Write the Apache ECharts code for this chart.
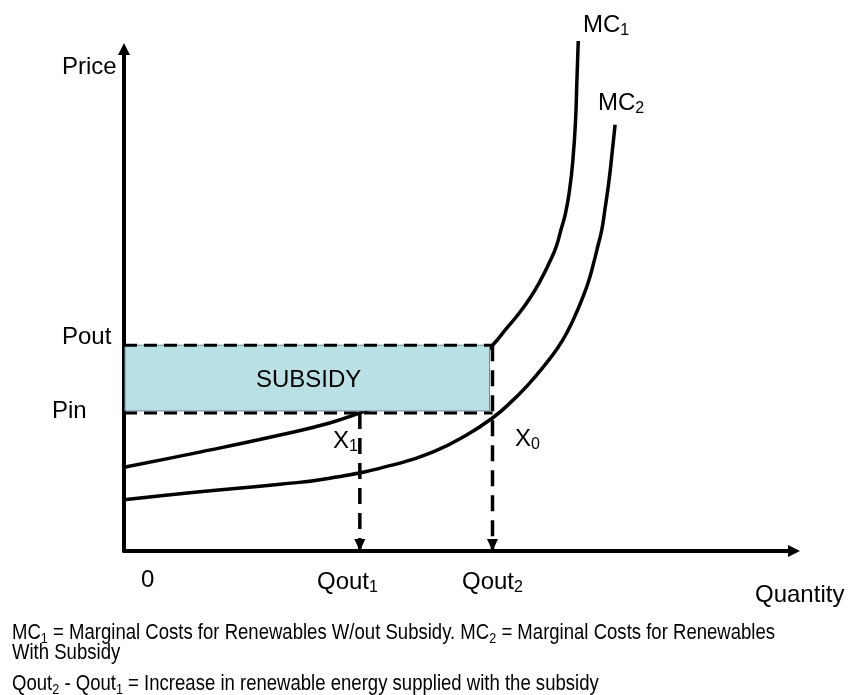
<!DOCTYPE html>
<html>
<head>
<meta charset="utf-8">
<script src="https://cdn.jsdelivr.net/npm/echarts@6/dist/echarts.min.js"></script>
<style>
  html, body { margin: 0; padding: 0; background: #fff; }
  #chart { width: 849px; height: 695px; }
</style>
</head>
<body>
<div id="chart"></div>
<script>
// Marginal cost curves as [quantity, price] points (arbitrary units, 0–100)
const mc1Curve = [
  [0, 16.7], [11.3, 19.7], [23.3, 23.1], [30.7, 25.5], [35.2, 27.5],
  [41.2, 30.3], [47.2, 33.7], [51.6, 36.9], [55.0, 41.0], [57.0, 44.2],
  [59.0, 47.4], [60.7, 50.6], [62.2, 54.0], [63.4, 57.2], [64.5, 60.6],
  [65.2, 63.9], [65.9, 67.3], [66.5, 71.9], [67.0, 77.9], [67.4, 85.9],
  [67.6, 93.8], [67.8, 101.6]
];
const mc2Curve = [
  [0, 10.2], [11.3, 11.8], [23.3, 13.3], [30.7, 14.5], [41.2, 17.5],
  [46.4, 19.9], [50.6, 22.7], [55.0, 26.5], [58.1, 30.1], [60.3, 33.1],
  [62.6, 36.7], [64.8, 40.6], [66.3, 44.0], [67.5, 47.4], [68.5, 50.6],
  [69.4, 54.0], [70.1, 57.4], [70.7, 60.6], [71.3, 63.9], [71.7, 67.3],
  [72.4, 73.9], [72.9, 79.9], [73.3, 84.9]
];
// Price levels: Pin, Pout
const priceLevels = [27.5, 41.0];
const priceNames = ['Pin', 'Pout'];
// Quantities supplied: Qout1, Qout2
const quantityLevels = [35.2, 55.0];
const quantityNames = [['Qout', '1'], ['Qout', '2']];

const P_IN = priceLevels[0], P_OUT = priceLevels[1];
const Q1 = quantityLevels[0], Q2 = quantityLevels[1];

const FONT = "'Liberation Sans', Arial, Helvetica, sans-serif";

// rich text with subscripts: parts = [[main, sub], ...]
function richText(parts) {
  return parts.map(p => '{n|' + p[0] + '}' + (p[1] ? '{s|' + p[1] + '}' : '')).join('');
}
function mainRich(size, sub, lh, subLh) {
  return {
    n: { fontSize: size, fontFamily: FONT, fill: '#000', lineHeight: lh },
    s: { fontSize: sub, fontFamily: FONT, fill: '#000', lineHeight: subLh, verticalAlign: 'bottom' }
  };
}
function label(x, y, parts) {
  return {
    type: 'text', x: x, y: y, z: 20, silent: true,
    style: {
      text: richText(parts), rich: mainRich(24, 16, 28, 10),
      align: 'left', verticalAlign: 'middle', fill: '#000'
    }
  };
}
function noteLine(x, y, parts) {
  return {
    type: 'text', x: x, y: y, z: 20, scaleX: 0.843, silent: true,
    style: {
      text: richText(parts), rich: mainRich(22, 15, 26, 10),
      align: 'left', verticalAlign: 'middle', fill: '#000'
    }
  };
}

function arrowEnd(pt) {
  return {
    value: pt, symbol: 'triangle', symbolRotate: 180,
    symbolSize: [11, 12], symbolOffset: [0, -6]
  };
}

const curveStyle = { color: '#000', width: 3.5 };

const option = {
  animation: false,
  backgroundColor: '#fff',
  grid: { left: 124, right: 55, top: 49, bottom: 144 },
  xAxis: {
    type: 'value', min: 0, max: 100,
    axisLine: { show: true, symbol: ['none', 'triangle'], symbolSize: [12, 12],
      lineStyle: { color: '#000', width: 4 } },
    axisTick: { show: false }, axisLabel: { show: false }, splitLine: { show: false }
  },
  yAxis: {
    type: 'value', min: 0, max: 100,
    axisLine: { show: true, symbol: ['none', 'triangle'], symbolSize: [12, 12],
      lineStyle: { color: '#000', width: 4 } },
    axisTick: { show: false }, axisLabel: { show: false }, splitLine: { show: false }
  },
  series: [
    {
      name: 'MC2', type: 'line', data: mc2Curve, smooth: 0.5, showSymbol: false,
      clip: false, silent: true, z: 2, lineStyle: curveStyle
    },
    {
      name: 'MC1', type: 'line', data: mc1Curve, smooth: 0.5, showSymbol: false,
      clip: false, silent: true, z: 2, lineStyle: curveStyle
    },
    {
      name: 'Subsidy', type: 'custom', z: 3, silent: true,
      encode: { x: [0, 2], y: [1, 3] },
      data: [[0, P_IN, Q2, P_OUT]],
      renderItem: function (params, api) {
        const a = api.coord([api.value(0), api.value(3)]);
        const b = api.coord([api.value(2), api.value(1)]);
        return {
          type: 'rect',
          shape: { x: a[0] + 1, y: a[1], width: b[0] - a[0] - 4, height: b[1] - a[1] - 2 },
          style: { fill: '#B9E0E4', stroke: '#6F8E91', lineWidth: 1 }
        };
      }
    },
    {
      name: 'Pout', type: 'line', data: [[0, P_OUT], [Q2, P_OUT]], showSymbol: false,
      silent: true, z: 4, lineStyle: { color: '#000', width: 3, type: [13, 7] }
    },
    {
      name: 'Pin', type: 'line', data: [[0, P_IN], [Q2, P_IN]], showSymbol: false,
      silent: true, z: 4, lineStyle: { color: '#000', width: 3, type: [13, 7] }
    },
    {
      name: 'Qout1', type: 'line', silent: true, z: 4, showSymbol: true,
      data: [{ value: [Q1, P_IN], symbol: 'none' }, arrowEnd([Q1, 0])],
      itemStyle: { color: '#000' },
      lineStyle: { color: '#000', width: 3.5, type: [16, 9] }
    },
    {
      name: 'Qout2', type: 'line', silent: true, z: 4, showSymbol: true,
      data: [{ value: [Q2, P_OUT], symbol: 'none' }, arrowEnd([Q2, 0])],
      itemStyle: { color: '#000' },
      lineStyle: { color: '#000', width: 3.5, type: [16, 9] }
    }
  ],
  graphic: [
    label(62, 67, [['Price']]),
    label(62, 337, [[priceNames[1]]]),
    label(52, 411, [[priceNames[0]]]),
    label(141, 580, [['0']]),
    label(317, 582, [quantityNames[0]]),
    label(462, 582, [quantityNames[1]]),
    label(755, 595, [['Quantity']]),
    label(583, 25, [['MC', '1']]),
    label(598, 103, [['MC', '2']]),
    label(333, 441, [['X', '1']]),
    label(515, 439, [['X', '0']]),
    label(256, 380, [['SUBSIDY']]),
    noteLine(12, 633, [['MC', '1'], [' = Marginal Costs for Renewables W/out Subsidy. MC', '2'], [' = Marginal Costs for Renewables']]),
    noteLine(12, 653, [['With Subsidy']]),
    noteLine(12, 684, [['Qout', '2'], [' - Qout', '1'], [' = Increase in renewable energy supplied with the subsidy']])
  ]
};

const chart = echarts.init(document.getElementById('chart'), null, { renderer: 'canvas' });
chart.setOption(option);
</script>
</body>
</html>
